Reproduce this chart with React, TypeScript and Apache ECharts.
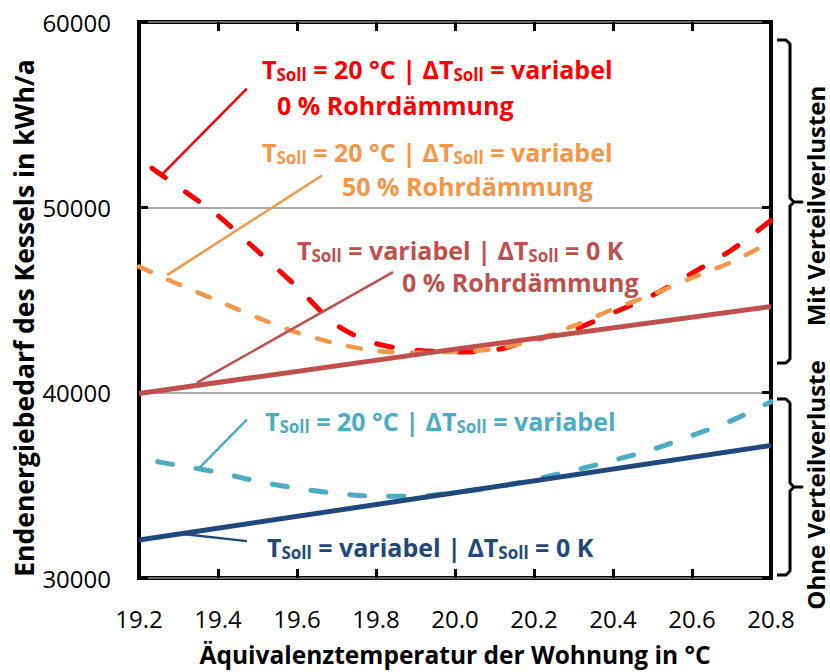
import { useEffect, useRef } from 'react';
import * as echarts from 'echarts';

const FONT = 'Open Sans';

// Äquivalenztemperatur (°C)
const temperatures = [19.2, 19.3, 19.4, 19.5, 19.6, 19.7, 19.8, 19.9, 20.0, 20.1, 20.2, 20.3, 20.4, 20.5, 20.6, 20.7, 20.8];

// Endenergiebedarf (kWh/a), T_Soll = 20 °C, ΔT_Soll variabel
const demandSoll20Insul0 = [52600, 51100, 49550, 47650, 45700, 43650, 42650, 42300, 42200, 42300, 42850, 43400, 44300, 45250, 46450, 47700, 49300];
const demandSoll20Insul50 = [46800, 45850, 44950, 44050, 43250, 42650, 42250, 42150, 42200, 42350, 42850, 43600, 44500, 45300, 46200, 47050, 48150];
const demandSoll20NoLoss = [36450, 36075, 35700, 35215, 34840, 34570, 34410, 34410, 34620, 34890, 35320, 35800, 36340, 36935, 37690, 38490, 39515];

// T_Soll variabel, ΔT_Soll = 0 K (linear)
const lineTemps = [19.2, 20.0, 20.8];
const demandSollVarInsul0 = [39950, 42350, 44650];
const demandSollVarNoLoss = [32050, 34600, 37150];

const yMin = 30000;
const yMax = 60000;
const yStep = 10000;
const xMin = 19.2;
const xMax = 20.8;
const xStep = 0.2;

const RED = '#FF0000';
const ORANGE = '#F79646';
const BROWN = '#C0504D';
const CYAN = '#4BACC6';
const NAVY = '#1F497D';

const pairs = (xs: number[], ys: number[]) => xs.map((x, i) => [x, ys[i]]);

const MAIN_SIZE = 25;
const SUB_SIZE = 17;
const LINE_H = 28;

function richStyles(color: string) {
  return {
    m: { fontSize: MAIN_SIZE, fontWeight: 'bold', fontFamily: FONT, lineHeight: LINE_H, fill: color },
    // subscript: pinned to the bottom of the line box, lowered below the baseline
    s: { fontSize: SUB_SIZE, fontWeight: 'bold', fontFamily: FONT, lineHeight: 10, verticalAlign: 'bottom', fill: color },
  };
}

function sollText(x: number, y: number, text: string, color: string) {
  return {
    type: 'text',
    x,
    y,
    silent: true,
    style: {
      text,
      rich: richStyles(color),
      fill: color,
      fontSize: MAIN_SIZE,
      fontWeight: 'bold',
      fontFamily: FONT,
      align: 'left',
      verticalAlign: 'middle',
    },
  };
}

function plainText(x: number, y: number, text: string, color: string) {
  return {
    type: 'text',
    x,
    y,
    silent: true,
    style: {
      text,
      fill: color,
      fontSize: MAIN_SIZE,
      fontWeight: 'bold',
      fontFamily: FONT,
      lineHeight: LINE_H,
      align: 'left',
      verticalAlign: 'middle',
    },
  };
}

function verticalText(x: number, y: number, text: string, size: number, lineHeight?: number) {
  return {
    type: 'text',
    x,
    y,
    rotation: Math.PI / 2,
    silent: true,
    style: {
      text,
      fill: '#000',
      fontSize: size,
      fontWeight: 'bold',
      fontFamily: FONT,
      lineHeight: lineHeight ?? size,
      align: 'center',
      verticalAlign: 'middle',
    },
  };
}

// leader lines, anchored in data space: [from label] -> [to curve]
const leaders: { color: string; from: number[]; to: number[] }[] = [
  { color: RED, from: [19.473, 56400], to: [19.261, 51830] },
  { color: ORANGE, from: [19.663, 51720], to: [19.271, 46340] },
  { color: BROWN, from: [19.843, 46500], to: [19.347, 40540] },
  { color: CYAN, from: [19.473, 38550], to: [19.354, 35970] },
  { color: NAVY, from: [19.473, 31990], to: [19.311, 32370] },
];

function brace(x: number, top: number, mid: number, bottom: number) {
  const hook = 13;
  const r = 4;
  const tip = 12;
  return {
    type: 'polyline',
    silent: true,
    shape: {
      points: [
        [x - hook, top],
        [x - r, top],
        [x, top + r],
        [x, mid - r],
        [x + r, mid],
        [x + tip, mid],
        [x + r, mid],
        [x, mid + r],
        [x, bottom - r],
        [x - r, bottom],
        [x - hook, bottom],
      ],
    },
    style: { stroke: '#000', lineWidth: 3, fill: 'none', lineJoin: 'round' },
  };
}

export default function App() {
  const ref = useRef<HTMLDivElement>(null);

  useEffect(() => {
    document.body.style.margin = '0';
    if (!ref.current) return;
    const chart = echarts.init(ref.current, undefined, { renderer: 'svg' });

    const tickStyle = { inside: true, length: 9, lineStyle: { color: '#000', width: 3 } };

    chart.setOption({
      animation: false,
      backgroundColor: '#ffffff',
      textStyle: { fontFamily: FONT },
      grid: {
        left: 139,
        top: 22,
        width: 632,
        height: 557,
        show: true,
        borderColor: '#000',
        borderWidth: 4,
        backgroundColor: 'transparent',
      },
      xAxis: [
        {
          type: 'value',
          min: xMin,
          max: xMax,
          interval: xStep,
          position: 'bottom',
          axisLine: { show: false, onZero: false },
          axisTick: tickStyle,
          splitLine: { show: false },
          axisLabel: {
            formatter: (v: number) => v.toFixed(1),
            fontSize: 24,
            color: '#000',
            fontFamily: FONT,
            margin: 28,
          },
          name: 'Äquivalenztemperatur der Wohnung in °C',
          nameLocation: 'middle',
          nameGap: 64,
          nameTextStyle: { fontSize: 24.5, fontWeight: 'bold', color: '#000', fontFamily: FONT },
        },
        {
          type: 'value',
          min: xMin,
          max: xMax,
          interval: xStep,
          position: 'top',
          axisLine: { show: false, onZero: false },
          axisTick: tickStyle,
          splitLine: { show: false },
          axisLabel: { show: false },
        },
      ],
      yAxis: [
        {
          type: 'value',
          min: yMin,
          max: yMax,
          interval: yStep,
          position: 'left',
          axisLine: { show: false },
          axisTick: tickStyle,
          splitLine: { show: true, lineStyle: { color: '#8c8c8c', width: 1.5 } },
          axisLabel: {
            formatter: (v: number) => String(v),
            fontSize: 24,
            color: '#000',
            fontFamily: FONT,
            margin: 28,
          },
        },
        {
          type: 'value',
          min: yMin,
          max: yMax,
          interval: yStep,
          position: 'right',
          axisLine: { show: false },
          axisTick: tickStyle,
          splitLine: { show: false },
          axisLabel: { show: false },
        },
      ],
      series: [
        {
          name: 'T_Soll = 20 °C | ΔT_Soll = variabel, 0 % Rohrdämmung',
          type: 'line',
          data: pairs(temperatures, demandSoll20Insul0),
          smooth: 0.3,
          showSymbol: false,
          lineStyle: { color: RED, width: 5, type: [16, 25], dashOffset: 25, cap: 'round' },
        },
        {
          name: 'T_Soll = 20 °C | ΔT_Soll = variabel, 50 % Rohrdämmung',
          type: 'line',
          data: pairs(temperatures, demandSoll20Insul50),
          smooth: 0.3,
          showSymbol: false,
          lineStyle: { color: ORANGE, width: 4.5, type: [13, 19], cap: 'round' },
        },
        {
          name: 'T_Soll = 20 °C | ΔT_Soll = variabel, ohne Verteilverluste',
          type: 'line',
          data: pairs(temperatures, demandSoll20NoLoss),
          smooth: 0.3,
          showSymbol: false,
          lineStyle: { color: CYAN, width: 5, type: [15, 24], dashOffset: 20, cap: 'round' },
        },
        {
          name: 'T_Soll = variabel | ΔT_Soll = 0 K, 0 % Rohrdämmung',
          type: 'line',
          data: pairs(lineTemps, demandSollVarInsul0),
          showSymbol: false,
          lineStyle: { color: BROWN, width: 5 },
        },
        {
          name: 'T_Soll = variabel | ΔT_Soll = 0 K, ohne Verteilverluste',
          type: 'line',
          data: pairs(lineTemps, demandSollVarNoLoss),
          showSymbol: false,
          lineStyle: { color: NAVY, width: 5 },
        },
      ],
    });

    const toPx = (p: number[]) => chart.convertToPixel({ xAxisIndex: 0, yAxisIndex: 0 }, p) as number[];

    const leaderLines = leaders.map((l) => {
      const a = toPx(l.from);
      const b = toPx(l.to);
      return {
        type: 'line',
        silent: true,
        z: 10,
        shape: { x1: a[0], y1: a[1], x2: b[0], y2: b[1] },
        style: { stroke: l.color, lineWidth: 2.5 },
      };
    });

    const sollVar20 = '{m|T}{s|Soll}{m| = 20 °C | ΔT}{s|Soll}{m| = variabel}';
    const sollVar0K = '{m|T}{s|Soll}{m| = variabel | ΔT}{s|Soll}{m| = 0 K}';

    chart.setOption({
      graphic: [
        ...leaderLines,
        sollText(262, 69, sollVar20, RED),
        plainText(277, 105, '0 % Rohrdämmung', RED),
        sollText(262, 152, sollVar20, ORANGE),
        plainText(342, 186, '50 % Rohrdämmung', ORANGE),
        sollText(297, 250, sollVar0K, BROWN),
        plainText(402, 282, '0 % Rohrdämmung', BROWN),
        sollText(265, 421, sollVar20, CYAN),
        sollText(267, 547, sollVar0K, NAVY),
        verticalText(24, 318, 'Endenergiebedarf des Kessels in kWh/a', 26.5),
        brace(790, 40, 202, 363),
        brace(790, 399, 487, 575),
        verticalText(815, 206, 'Mit Verteilverlusten', 24, 18),
        verticalText(815, 485, 'Ohne Verteilverluste', 24, 18),
      ],
    });

    return () => chart.dispose();
  }, []);

  return <div ref={ref} style={{ position: 'absolute', left: 0, top: 0, width: 830, height: 672 }} />;
}
